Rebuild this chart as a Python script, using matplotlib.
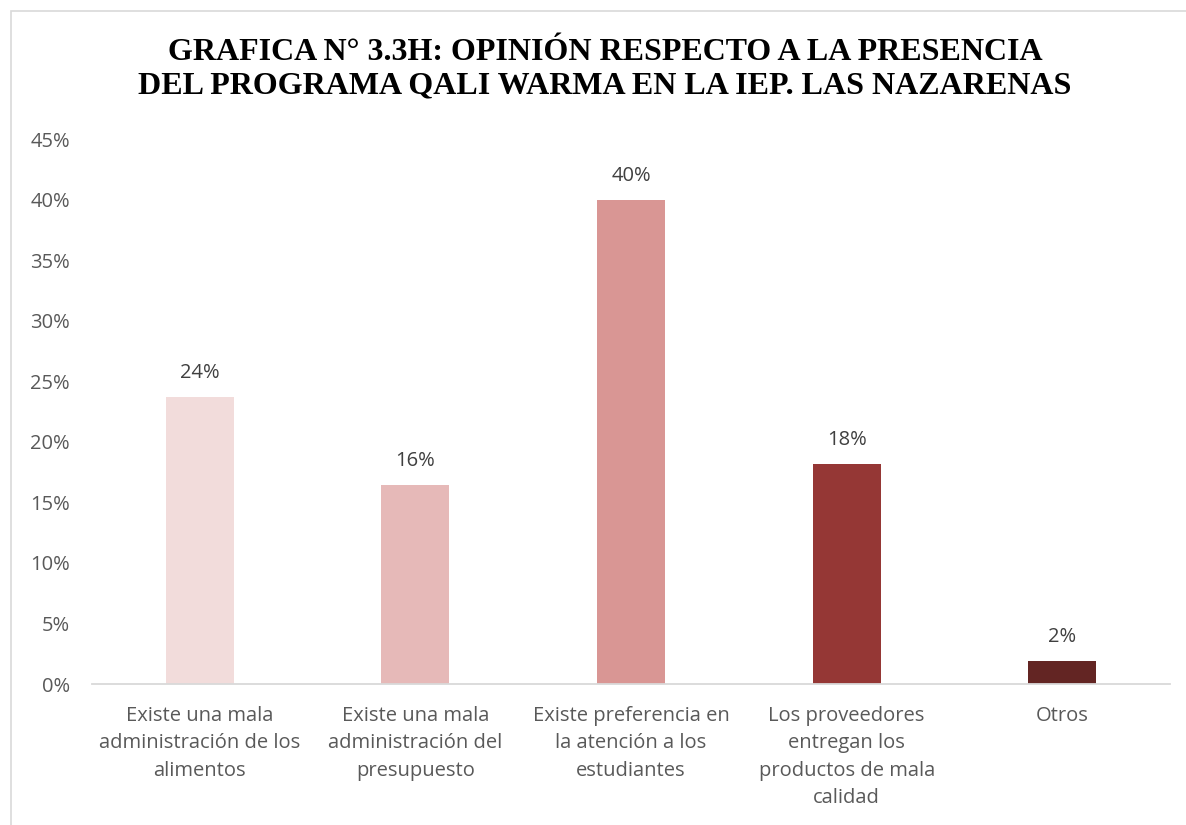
import matplotlib.pyplot as plt
from matplotlib.patches import Rectangle

# datos
categorias = ['Existe una mala\nadministración de los\nalimentos',
              'Existe una mala\nadministración del\npresupuesto',
              'Existe preferencia en\nla atención a los\nestudiantes',
              'Los proveedores\nentregan los\nproductos de mala\ncalidad',
              'Otros']
valores = [23.7, 16.4, 40.0, 18.2, 1.9]
etiquetas = ['24%', '16%', '40%', '18%', '2%']
colores = ['#F2DCDB', '#E6B9B8', '#D99694', '#953735', '#632523']
ticks = [0, 5, 10, 15, 20, 25, 30, 35, 40, 45]

plt.rcParams['font.family'] = ['Open Sans', 'DejaVu Sans']

fig = plt.figure(figsize=(11.86, 8.25), dpi=100)
ax = fig.add_axes([0.0776, 0.1709, 0.909, 0.6606])

x = range(len(categorias))
ax.bar(x, valores, width=0.315, color=colores, zorder=2)

for i, v in enumerate(valores):
    ax.text(i, v + 1.15, etiquetas[i], ha='center', va='bottom', fontsize=14.5, color='#404040')

ax.set_xlim(-0.5, len(categorias) - 0.5)
ax.set_ylim(0, 45)
ax.set_yticks(ticks)
ax.set_yticklabels([f'{t}%' for t in ticks], fontsize=14.5, color='#595959')
ax.set_xticks(list(x))
ax.set_xticklabels(categorias, fontsize=14.5, color='#595959', linespacing=1.48)
ax.tick_params(axis='both', length=0)
ax.tick_params(axis='y', pad=16)
ax.tick_params(axis='x', pad=16)

for s in ['top', 'right', 'left']:
    ax.spines[s].set_visible(False)
ax.spines['bottom'].set_color('#D9D9D9')
ax.spines['bottom'].set_linewidth(1.3)

fig.text(0.51, 0.916, 'GRAFICA N° 3.3H: OPINIÓN RESPECTO A LA PRESENCIA\nDEL PROGRAMA QALI WARMA EN LA IEP. LAS NAZARENAS',
         ha='center', va='center', fontsize=23, fontweight='bold',
         family='Liberation Serif', color='black', linespacing=1.2)

# marco del grafico
fig.patches.append(Rectangle((11 / 1186, -0.1), 1.2, 1 - 11 / 825 + 0.1, transform=fig.transFigure,
                             fill=False, edgecolor='#D9D9D9', linewidth=1.2))

fig.savefig('out.png', dpi=100)
